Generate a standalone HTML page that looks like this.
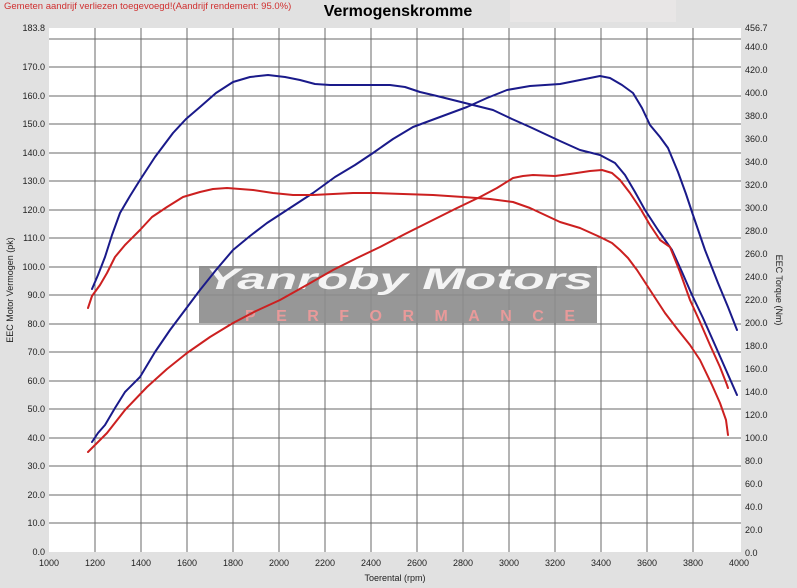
<!DOCTYPE html>
<html><head><meta charset="utf-8"><style>
body{margin:0;background:#e1e1e1;}
svg{display:block;font-family:"Liberation Sans",sans-serif;}
</style></head><body>
<svg width="797" height="588" viewBox="0 0 797 588">
<rect width="797" height="588" fill="#e1e1e1"/>
<rect x="510" y="0" width="166" height="22" fill="#e8e6e6"/>
<text x="4" y="9" font-size="9.5" fill="#d03030">Gemeten aandrijf verliezen toegevoegd!(Aandrijf rendement: 95.0%)</text>
<text x="398" y="16" font-size="16" font-weight="bold" text-anchor="middle" fill="#000">Vermogenskromme</text>
<rect x="49" y="28" width="692" height="524" fill="#fff"/>
<g stroke="#6a6a6a" stroke-width="1" shape-rendering="crispEdges">
<line x1="49" y1="39" x2="741" y2="39"/><line x1="49" y1="67" x2="741" y2="67"/><line x1="49" y1="96" x2="741" y2="96"/><line x1="49" y1="124" x2="741" y2="124"/><line x1="49" y1="153" x2="741" y2="153"/><line x1="49" y1="181" x2="741" y2="181"/><line x1="49" y1="210" x2="741" y2="210"/><line x1="49" y1="238" x2="741" y2="238"/><line x1="49" y1="267" x2="741" y2="267"/><line x1="49" y1="295" x2="741" y2="295"/><line x1="49" y1="324" x2="741" y2="324"/><line x1="49" y1="352" x2="741" y2="352"/><line x1="49" y1="381" x2="741" y2="381"/><line x1="49" y1="409" x2="741" y2="409"/><line x1="49" y1="438" x2="741" y2="438"/><line x1="49" y1="466" x2="741" y2="466"/><line x1="49" y1="495" x2="741" y2="495"/><line x1="49" y1="523" x2="741" y2="523"/>
<line x1="95" y1="28" x2="95" y2="552"/><line x1="141" y1="28" x2="141" y2="552"/><line x1="187" y1="28" x2="187" y2="552"/><line x1="233" y1="28" x2="233" y2="552"/><line x1="279" y1="28" x2="279" y2="552"/><line x1="325" y1="28" x2="325" y2="552"/><line x1="371" y1="28" x2="371" y2="552"/><line x1="417" y1="28" x2="417" y2="552"/><line x1="463" y1="28" x2="463" y2="552"/><line x1="509" y1="28" x2="509" y2="552"/><line x1="555" y1="28" x2="555" y2="552"/><line x1="601" y1="28" x2="601" y2="552"/><line x1="647" y1="28" x2="647" y2="552"/><line x1="693" y1="28" x2="693" y2="552"/>
</g>
<g font-size="9" fill="#222" text-anchor="end">
<text x="45" y="31">183.8</text><text x="45" y="70">170.0</text><text x="45" y="99">160.0</text><text x="45" y="127">150.0</text><text x="45" y="156">140.0</text><text x="45" y="184">130.0</text><text x="45" y="213">120.0</text><text x="45" y="241">110.0</text><text x="45" y="270">100.0</text><text x="45" y="298">90.0</text><text x="45" y="327">80.0</text><text x="45" y="355">70.0</text><text x="45" y="384">60.0</text><text x="45" y="412">50.0</text><text x="45" y="441">40.0</text><text x="45" y="469">30.0</text><text x="45" y="498">20.0</text><text x="45" y="526">10.0</text><text x="45" y="555">0.0</text>
</g>
<g font-size="9" fill="#222">
<text x="745" y="31">456.7</text><text x="745" y="50">440.0</text><text x="745" y="73">420.0</text><text x="745" y="96">400.0</text><text x="745" y="119">380.0</text><text x="745" y="142">360.0</text><text x="745" y="165">340.0</text><text x="745" y="188">320.0</text><text x="745" y="211">300.0</text><text x="745" y="234">280.0</text><text x="745" y="257">260.0</text><text x="745" y="280">240.0</text><text x="745" y="303">220.0</text><text x="745" y="326">200.0</text><text x="745" y="349">180.0</text><text x="745" y="372">160.0</text><text x="745" y="395">140.0</text><text x="745" y="418">120.0</text><text x="745" y="441">100.0</text><text x="745" y="464">80.0</text><text x="745" y="487">60.0</text><text x="745" y="510">40.0</text><text x="745" y="533">20.0</text><text x="745" y="556">0.0</text>
</g>
<g font-size="9" fill="#222" text-anchor="middle">
<text x="49" y="566">1000</text><text x="95" y="566">1200</text><text x="141" y="566">1400</text><text x="187" y="566">1600</text><text x="233" y="566">1800</text><text x="279" y="566">2000</text><text x="325" y="566">2200</text><text x="371" y="566">2400</text><text x="417" y="566">2600</text><text x="463" y="566">2800</text><text x="509" y="566">3000</text><text x="555" y="566">3200</text><text x="601" y="566">3400</text><text x="647" y="566">3600</text><text x="693" y="566">3800</text><text x="739" y="566">4000</text>
<text x="395" y="581">Toerental (rpm)</text>
</g>
<text transform="translate(13,290) rotate(-90)" font-size="9" fill="#222" text-anchor="middle">EEC Motor Vermogen (pk)</text>
<text transform="translate(776,290) rotate(90)" font-size="9" fill="#222" text-anchor="middle">EEC Torque (Nm)</text>
<rect x="199" y="266" width="398" height="57" fill="#8c8c8c" opacity="0.9"/>
<text x="205" y="289" font-size="30" font-weight="bold" font-style="italic" fill="#f4f4f4" textLength="388" lengthAdjust="spacingAndGlyphs">Yanroby Motors</text>
<text x="245" y="321" font-size="16" font-weight="bold" fill="#e89a9a" textLength="330" lengthAdjust="spacing">PERFORMANCE</text>
<g fill="none" stroke-width="2" stroke-linejoin="round" stroke-linecap="round">
<polyline stroke="#1a1a8a" points="92,289 98,275 105,257 112,235 120,213 130,196 140,180 155,157 173,133 186,119 200,107 216,93 233,82 250,77 268,75 285,77 300,80 315,84 330,85 350,85 370,85 390,85 405,87 420,92 437,96 453,100 473,105 493,110 512,119 530,127 545,134 560,141 580,150 600,155 615,163 625,175 635,192 645,210 658,230 672,250 682,272 692,295 703,318 715,345 726,370 737,395"/>
<polyline stroke="#1a1a8a" points="92,442 98,433 105,425 115,408 125,392 140,377 155,352 170,330 185,310 200,290 216,270 233,250 250,236 267,223 290,208 313,193 335,177 355,165 373,153 393,139 413,127 440,117 467,107 487,98 507,90 530,86 560,84 580,80 600,76 610,78 622,85 633,93 642,108 650,125 660,137 668,148 678,172 686,194 693,215 705,250 718,283 728,307 737,330"/>
<polyline stroke="#cc2020" points="88,308 92,296 100,285 107,273 115,257 125,245 140,230 152,217 167,207 183,197 200,192 213,189 227,188 240,189 253,190 273,193 293,195 313,195 333,194 353,193 373,193 403,194 433,195 463,197 490,199 513,202 530,208 545,215 560,222 580,228 600,237 612,243 620,250 628,258 637,270 650,290 665,313 678,330 690,345 700,360 712,385 720,403 726,420 728,435"/>
<polyline stroke="#cc2020" points="88,452 95,445 107,433 125,410 147,387 167,369 187,353 210,337 233,323 256,311 280,300 305,286 333,270 357,258 380,247 405,234 433,220 455,209 480,197 497,188 513,178 523,176 533,175 555,176 570,174 590,171 602,170 612,173 620,180 630,193 640,208 650,225 660,240 670,247 680,272 690,300 700,322 710,345 720,367 727,385 728,388"/>
</g>
</svg>
</body></html>
